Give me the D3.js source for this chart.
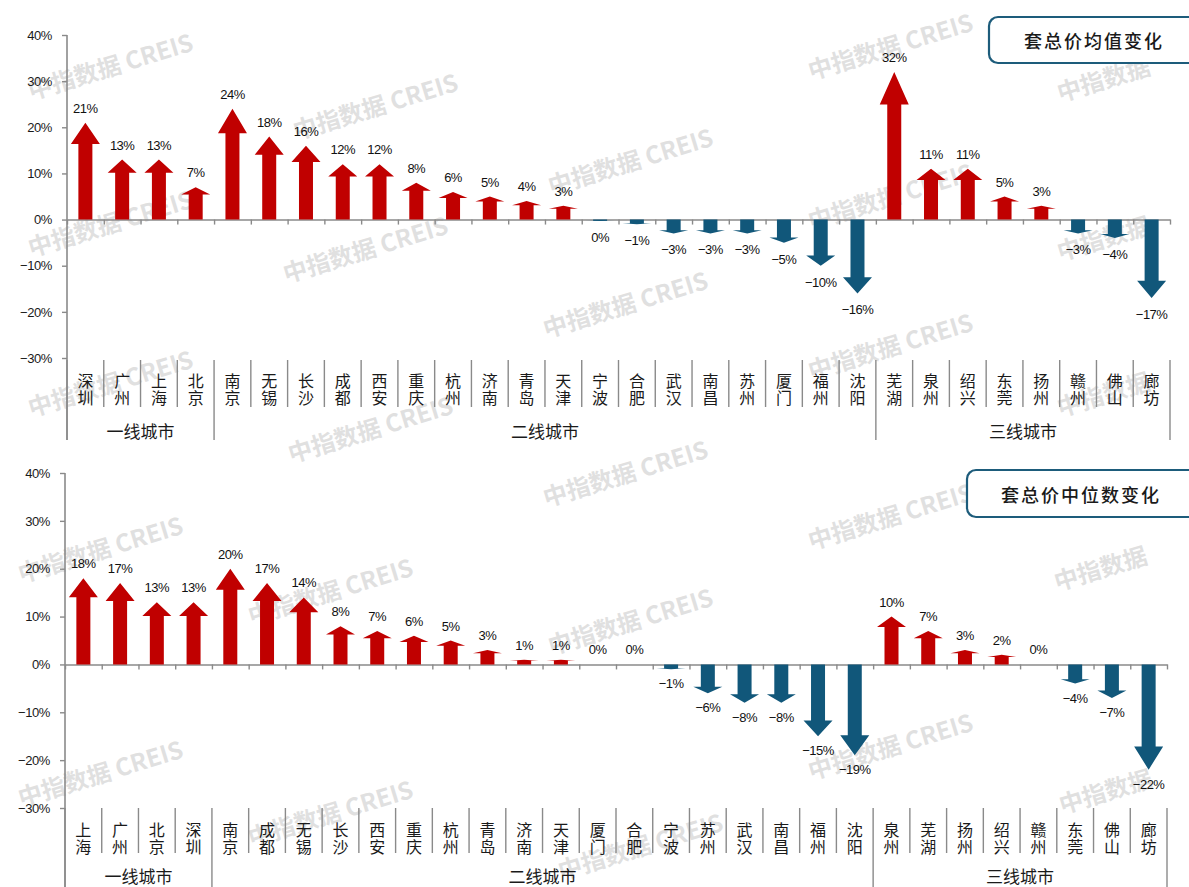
<!DOCTYPE html>
<html>
<head>
<meta charset="utf-8">
<script src="https://cdn.jsdelivr.net/npm/d3@7"></script>
<style>
  html, body { margin: 0; padding: 0; background: #ffffff; }
  svg { display: block; }
</style>
</head>
<body>
<svg id="chart" width="1189" height="887"></svg>
<script>
// 套总价均值变化 — city order and change (%)
const meanCities = ["深圳","广州","上海","北京","南京","无锡","长沙","成都","西安","重庆","杭州","济南","青岛","天津","宁波","合肥","武汉","南昌","苏州","厦门","福州","沈阳","芜湖","泉州","绍兴","东莞","扬州","赣州","佛山","廊坊"];
const meanChange = [21,13,13,7,24,18,16,12,12,8,6,5,4,3,-0.3,-1,-3,-3,-3,-5,-10,-16,32,11,11,5,3,-3,-4,-17];

// 套总价中位数变化 — city order and change (%)
const medianCities = ["上海","广州","北京","深圳","南京","成都","无锡","长沙","西安","重庆","杭州","青岛","济南","天津","厦门","合肥","宁波","苏州","武汉","南昌","福州","沈阳","泉州","芜湖","扬州","绍兴","赣州","东莞","佛山","廊坊"];
const medianChange = [18,17,13,13,20,17,14,8,7,6,5,3,1,1,0,0,-1,-6,-8,-8,-15,-19,10,7,3,2,0,-4,-7,-22];

// city tiers: names and how many cities each covers (same for both panels)
const tierNames = ["一线城市","二线城市","三线城市"];
const tierSizes = [4, 18, 8];

const yTickValues = [-30,-20,-10,0,10,20,30,40];
const yDomain = [-30, 40];
const panelTitles = ["套总价均值变化","套总价中位数变化"];

// ---------------------------------------------------------------
const RED = "#c00000";
const BLUE = "#11577a";
const AXIS = "#8a8a8a";
const LATIN = "'Liberation Sans', Arial, sans-serif";
const CJK = "'Noto Sans CJK SC', 'Noto Sans', sans-serif";

const svg = d3.select("#chart");
const num = d3.format(".0f");
const pct = v => num(v) + "%";

const panels = [
  { cities: meanCities, values: meanChange, title: panelTitles[0],
    x0: 67, x1: 1170, yTop: 35, yBot: 358,
    sepTop: 360, sepBot: 407, tierBot: 440,
    cityY: 380, tierY: 430, posGap: 10, negGap: 21,
    box: { x: 989, y: 17, h: 46, tx: 1094 } },
  { cities: medianCities, values: medianChange, title: panelTitles[1],
    x0: 65, x1: 1167, yTop: 473, yBot: 808,
    sepTop: 808, sepBot: 853, tierBot: 890,
    cityY: 829, tierY: 875, posGap: 10, negGap: 19,
    box: { x: 967, y: 470, h: 47, tx: 1081 } }
];

// tier boundaries as category indices
const tierEdges = [0];
tierSizes.forEach(s => tierEdges.push(tierEdges[tierEdges.length - 1] + s));

function arrowPath(cx, y0, y1) {
  const len = Math.abs(y1 - y0);
  const dir = y1 < y0 ? -1 : 1;          // -1 points up
  const head = 0.22 * len;
  const sw = 7, hw = 14.5;
  const yh = y1 - dir * head;
  return `M${cx - sw},${y0}L${cx - sw},${yh}L${cx - hw},${yh}L${cx},${y1}` +
         `L${cx + hw},${yh}L${cx + sw},${yh}L${cx + sw},${y0}Z`;
}

// faint brand stamps, drawn first so the chart sits on top
const stampSpots = [
  [110,65],[375,105],[630,160],[890,45],
  [110,222],[365,248],[625,303],[890,195],
  [110,382],[370,428],[625,472],[890,345],
  [100,548],[330,590],[630,620],[890,515],
  [100,772],[330,812],[640,845],[890,745]
];
const stampEdgeSpots = [[1103,78],[1103,237],[1103,393],[1100,567],[1105,790]];
const stamps = svg.append("g").attr("pointer-events", "none");
stamps.selectAll("text.full")
  .data(stampSpots)
  .join("text")
  .attr("class", "full")
  .attr("transform", d => `translate(${d[0]},${d[1]}) rotate(-17)`)
  .attr("text-anchor", "middle").attr("dominant-baseline", "central")
  .attr("font-family", CJK).attr("font-size", 24).attr("font-weight", 700)
  .attr("fill", "#d6d6d6").attr("fill-opacity", 0.75)
  .text("中指数据 CREIS");
stamps.selectAll("text.edge")
  .data(stampEdgeSpots)
  .join("text")
  .attr("class", "edge")
  .attr("transform", d => `translate(${d[0]},${d[1]}) rotate(-17)`)
  .attr("text-anchor", "middle").attr("dominant-baseline", "central")
  .attr("font-family", CJK).attr("font-size", 24).attr("font-weight", 700)
  .attr("fill", "#d6d6d6").attr("fill-opacity", 0.75)
  .text("中指数据");

panels.forEach(p => {
  const g = svg.append("g");
  const n = p.cities.length;

  const x = d3.scaleBand().domain(p.cities).range([p.x0, p.x1]).padding(0);
  const edge = d3.scaleLinear().domain([0, n]).range([p.x0, p.x1]);
  const y = d3.scaleLinear().domain(yDomain).range([p.yBot, p.yTop]);
  const y0 = y(0);

  // y axis
  const yAxis = g.append("g")
    .attr("transform", `translate(${p.x0},0)`)
    .call(d3.axisLeft(y).tickValues(yTickValues).tickSize(5).tickPadding(10).tickFormat(pct));
  yAxis.select(".domain").remove();
  yAxis.selectAll(".tick line").attr("stroke", AXIS).attr("stroke-width", 1.4);
  yAxis.selectAll(".tick text")
    .attr("font-family", LATIN).attr("font-size", 13).attr("fill", "#1a1a1a")
    .attr("letter-spacing", "-0.4");
  g.append("line")
    .attr("x1", p.x0).attr("x2", p.x0).attr("y1", p.yTop).attr("y2", p.tierBot)
    .attr("stroke", AXIS).attr("stroke-width", 1.6);

  // zero line with ticks at category edges
  const xAxis = g.append("g")
    .attr("transform", `translate(0,${y0})`)
    .call(d3.axisBottom(edge).tickValues(d3.range(n + 1)).tickSize(5).tickSizeOuter(0).tickFormat(""));
  xAxis.select(".domain").attr("stroke", AXIS).attr("stroke-width", 1.6);
  xAxis.selectAll(".tick line").attr("stroke", AXIS).attr("stroke-width", 1.4);

  // category separators (longer at tier edges)
  g.selectAll("line.sep")
    .data(d3.range(n + 1))
    .join("line")
    .attr("class", "sep")
    .attr("x1", i => edge(i)).attr("x2", i => edge(i))
    .attr("y1", p.sepTop)
    .attr("y2", i => tierEdges.includes(i) ? p.tierBot : p.sepBot)
    .attr("stroke", AXIS).attr("stroke-width", 1.4);

  // city names, two characters stacked
  const names = g.selectAll("text.city")
    .data(p.cities)
    .join("text")
    .attr("class", "city")
    .attr("font-family", CJK).attr("font-size", 16).attr("fill", "#1a1a1a")
    .attr("text-anchor", "middle");
  names.each(function (c) {
    const t = d3.select(this);
    const cx = x(c) + x.bandwidth() / 2;
    Array.from(c).forEach((ch, k) => {
      t.append("tspan").attr("x", cx).attr("y", p.cityY + k * 16.5)
        .attr("dominant-baseline", "central").text(ch);
    });
  });

  // tier names
  g.selectAll("text.tier")
    .data(tierNames)
    .join("text")
    .attr("class", "tier")
    .attr("x", (d, i) => (edge(tierEdges[i]) + edge(tierEdges[i + 1])) / 2)
    .attr("y", p.tierY)
    .attr("dominant-baseline", "central")
    .attr("text-anchor", "middle")
    .attr("font-family", CJK).attr("font-size", 17).attr("fill", "#1a1a1a")
    .text(d => d);

  // arrows
  const rows = p.cities.map((c, i) => ({ city: c, v: p.values[i] }));
  g.selectAll("path.arrow")
    .data(rows.filter(d => d.v !== 0))
    .join("path")
    .attr("class", "arrow")
    .attr("d", d => arrowPath(x(d.city) + x.bandwidth() / 2, y0, y(d.v)))
    .attr("fill", d => d.v > 0 ? RED : BLUE);

  // value labels
  g.selectAll("text.val")
    .data(rows)
    .join("text")
    .attr("class", "val")
    .attr("x", d => x(d.city) + x.bandwidth() / 2)
    .attr("y", d => d.v >= 0 ? y(d.v) - p.posGap : y(d.v) + p.negGap)
    .attr("text-anchor", "middle")
    .attr("font-family", LATIN).attr("font-size", 13).attr("fill", "#111")
    .attr("letter-spacing", "-0.5")
    .text(d => pct(d.v));

  // title box
  g.append("rect")
    .attr("x", p.box.x).attr("y", p.box.y)
    .attr("width", 260).attr("height", p.box.h)
    .attr("rx", 9).attr("ry", 9)
    .attr("fill", "#ffffff").attr("stroke", "#1d5c7b").attr("stroke-width", 2.2);
  g.append("text")
    .attr("x", p.box.tx).attr("y", p.box.y + p.box.h / 2)
    .attr("dominant-baseline", "central").attr("text-anchor", "middle")
    .attr("font-family", CJK).attr("font-size", 18).attr("font-weight", 500)
    .attr("letter-spacing", "2").attr("fill", "#1a1a1a")
    .text(p.title);
});
</script>
</body>
</html>
